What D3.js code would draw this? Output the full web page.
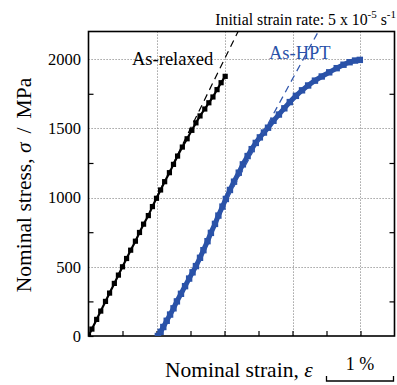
<!DOCTYPE html>
<html><head><meta charset="utf-8">
<script src="https://cdn.jsdelivr.net/npm/d3@7"></script>
<style>
body{margin:0;background:#fff;}
svg{display:block;font-family:"Liberation Serif","Times New Roman",serif;}
</style></head>
<body><svg id="c" width="397" height="385"></svg>
<script>
// Strain (%) and stress (MPa)
const relaxedStrain = [0, 0.05, 0.12, 0.18, 0.25, 0.31, 0.38, 0.44, 0.5, 0.56, 0.62, 0.69, 0.75, 0.81, 0.88, 0.94, 1.0, 1.06, 1.12, 1.19, 1.25, 1.31, 1.38, 1.45, 1.52, 1.58, 1.64, 1.71, 1.77, 1.83, 1.89, 1.95, 2.01];
const relaxedStress = [0, 50, 120, 180, 250, 310, 380, 440, 500, 560, 620, 685, 748, 808, 870, 935, 995, 1055, 1115, 1180, 1240, 1300, 1365, 1425, 1486, 1540, 1590, 1640, 1685, 1727, 1780, 1830, 1876];
const hptStrain = [1.02, 1.06, 1.10, 1.15, 1.20, 1.25, 1.30, 1.36, 1.42, 1.48, 1.53, 1.58, 1.64, 1.69, 1.75, 1.80, 1.86, 1.91, 1.97, 2.02, 2.08, 2.14, 2.21, 2.27, 2.34, 2.40, 2.46, 2.52, 2.58, 2.64, 2.72, 2.80, 2.88, 2.96, 3.05, 3.14, 3.23, 3.33, 3.43, 3.54, 3.65, 3.75, 3.84, 3.92, 3.99];
const hptStress = [0, 30, 65, 110, 155, 200, 250, 305, 360, 415, 460, 505, 565, 620, 685, 745, 810, 870, 935, 990, 1055, 1115, 1180, 1240, 1300, 1350, 1395, 1435, 1470, 1505, 1555, 1600, 1645, 1690, 1735, 1775, 1810, 1845, 1875, 1905, 1935, 1960, 1978, 1990, 1995];
// Fitted elastic lines (strain, stress) end points
const relaxedFitStrain = [1.0, 2.2];
const relaxedFitStress = [1000, 2200];
const hptFitStrain = [2.05, 3.38];
const hptFitStress = [1000, 2200];
const yTicks = [0, 500, 1000, 1500, 2000];
const yMinor = [250, 750, 1250, 1750];
const xGrid = [1, 2, 3, 4];
const xMinor = [0.5, 1.5, 2.5, 3.5];

const svg = d3.select("#c");
const L = 88.5, R = 394.5, T = 31.5, B = 336;
const x = d3.scaleLinear().domain([0, 4.5]).range([L, R]);
const y = d3.scaleLinear().domain([0, 2200]).range([B, T]);

// grid
const grid = svg.append("g").attr("stroke", "#8a8a8a").attr("stroke-width", 1).attr("stroke-dasharray", "1.2,1.8");
yTicks.filter(d => d > 0).forEach(v => grid.append("line").attr("x1", L).attr("x2", R).attr("y1", Math.round(y(v)) + 0.5).attr("y2", Math.round(y(v)) + 0.5));
xGrid.forEach(v => grid.append("line").attr("y1", T).attr("y2", B).attr("x1", Math.round(x(v)) + 0.5).attr("x2", Math.round(x(v)) + 0.5));

// axes with inward ticks
const tk = 5;
const yAxL = d3.axisLeft(y).tickValues(yTicks.concat(yMinor)).tickSize(-tk).tickFormat(d => yTicks.includes(d) ? d : "").tickPadding(7.5);
const gL = svg.append("g").attr("transform", `translate(${L},0)`).call(yAxL);
const yAxR = d3.axisRight(y).tickValues(yMinor).tickSize(-tk).tickFormat("");
const gR = svg.append("g").attr("transform", `translate(${R},0)`).call(yAxR);
const xAxB = d3.axisBottom(x).tickValues(xGrid.concat(xMinor)).tickSize(-tk).tickFormat("");
const gB = svg.append("g").attr("transform", `translate(0,${B})`).call(xAxB);
[gL, gR, gB].forEach(g => {
  g.select(".domain").remove();
  g.selectAll("line").attr("stroke", "#000").attr("stroke-width", 1.2);
});
gL.selectAll(".tick").filter(d => yTicks.includes(d) && d > 0).select("line").remove();
gL.selectAll("text").attr("font-size", 16.5).attr("fill", "#000").attr("font-family", "Liberation Serif, serif");

// frame
svg.append("rect").attr("x", L).attr("y", T).attr("width", R - L).attr("height", B - T)
  .attr("fill", "none").attr("stroke", "#000").attr("stroke-width", 1.6);

svg.append("clipPath").attr("id", "pc").append("rect").attr("x", L).attr("y", T).attr("width", R - L).attr("height", B - T);
const plot = svg.append("g").attr("clip-path", "url(#pc)");

const line = d3.line().x(d => x(d[0])).y(d => y(d[1]));
const zip = (a, b) => a.map((v, i) => [v, b[i]]);

const blue = "#2a52a8";
// data
plot.append("path").attr("d", d3.line().curve(d3.curveMonotoneX).x(d => x(d[0])).y(d => y(d[1]))(zip(hptStrain, hptStress)))
  .attr("fill", "none").attr("stroke", blue).attr("stroke-width", 5);
plot.selectAll(".bm").data(zip(hptStrain, hptStress)).enter().append("rect")
  .attr("x", d => x(d[0]) - 3.2).attr("y", d => y(d[1]) - 3.2).attr("width", 6.4).attr("height", 6.4).attr("fill", blue);
plot.append("path").attr("d", line(zip(relaxedStrain, relaxedStress))).attr("fill", "none").attr("stroke", "#000").attr("stroke-width", 2.2);
plot.selectAll(".km").data(zip(relaxedStrain, relaxedStress)).enter().append("rect")
  .attr("x", d => x(d[0]) - 2.6).attr("y", d => y(d[1]) - 2.6).attr("width", 5.2).attr("height", 5.2).attr("fill", "#000");

// dashed fit lines
plot.append("path").attr("d", line(zip(relaxedFitStrain, relaxedFitStress)))
  .attr("fill", "none").attr("stroke", "#000").attr("stroke-width", 1.2).attr("stroke-dasharray", "7,5");
plot.append("path").attr("d", line(zip(hptFitStrain, hptFitStress)))
  .attr("fill", "none").attr("stroke", "#3358ad").attr("stroke-width", 1.3).attr("stroke-dasharray", "7,5");

// labels
svg.append("text").attr("x", 132).attr("y", 65).attr("font-size", 18.5).attr("fill", "#000").text("As-relaxed");
svg.append("text").attr("x", 269).attr("y", 59).attr("font-size", 18.5).attr("fill", blue).text("As-HPT");
const t = svg.append("text").attr("x", 396).attr("y", 25).attr("text-anchor", "end").attr("font-size", 15.8).attr("fill", "#000");
t.append("tspan").text("Initial strain rate: 5 x 10");
t.append("tspan").attr("dy", -7).attr("font-size", 11).text("-5");
t.append("tspan").attr("dy", 7).text(" s");
t.append("tspan").attr("dy", -7).attr("font-size", 11).text("-1");

// axis titles
const yt = svg.append("text").attr("transform", `translate(31,185) rotate(-90)`).attr("text-anchor", "middle").attr("font-size", 21.5).attr("fill", "#000");
yt.append("tspan").text("Nominal stress, ");
yt.append("tspan").attr("font-style", "italic").text("σ");
yt.append("tspan").attr("dx", 9).text("/");
yt.append("tspan").attr("dx", 9).text("MPa");
const xt = svg.append("text").attr("x", 165).attr("y", 377).attr("font-size", 21.5).attr("fill", "#000");
xt.append("tspan").text("Nominal strain, ");
xt.append("tspan").attr("font-style", "italic").text("ε");

// scale bar of 1 % strain
const sb0 = x(3.5), sb1 = x(4.5) - 1;
svg.append("path").attr("d", `M${sb0},376 V381 H${sb1} V376`).attr("fill", "none").attr("stroke", "#000").attr("stroke-width", 1.3);
svg.append("text").attr("x", (sb0 + sb1) / 2).attr("y", 370).attr("text-anchor", "middle").attr("font-size", 18).attr("fill", "#000").text("1 %");
</script></body></html>
